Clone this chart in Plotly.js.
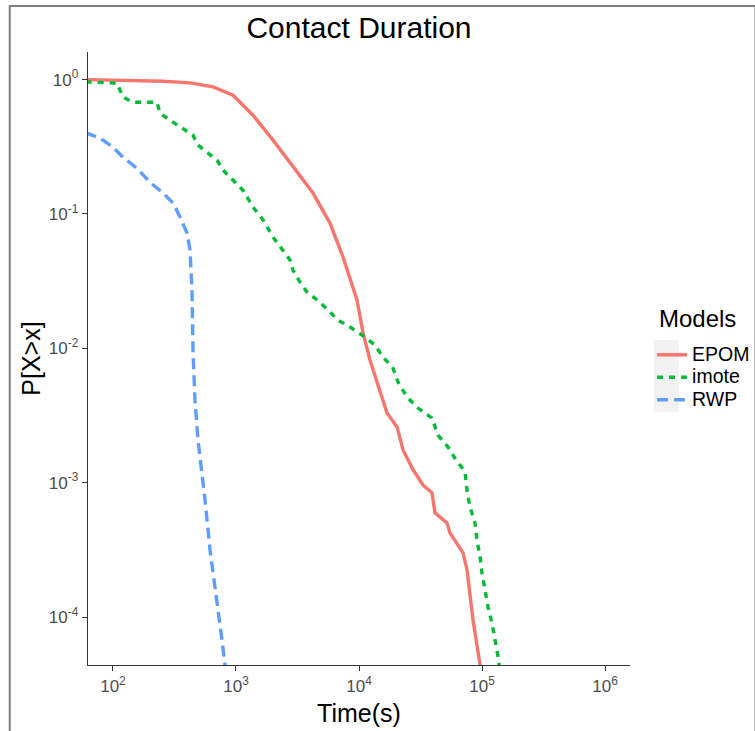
<!DOCTYPE html>
<html>
<head>
<meta charset="utf-8">
<script src="https://cdn.plot.ly/plotly-3.0.1.min.js"></script>
<style>html,body{margin:0;padding:0;background:#fff;}#chart{width:755px;height:731px;}</style>
</head>
<body>
<div id="chart"></div>
<script>
// Series: time (s) and complementary CDF P[X>x]
const seriesNames = ["EPOM", "imote", "RWP"];

const epomX = [60, 255, 423, 650, 946, 1375, 2000, 2906, 4227, 5808, 7413, 9636, 10790, 12280, 14830, 16900, 20380, 22800, 27500, 33130, 39200, 41460, 51900, 54900, 70100, 75500, 84500, 96400, 116000];
const epomY = [1.0, 0.97, 0.944, 0.881, 0.764, 0.543, 0.354, 0.223, 0.143, 0.0855, 0.0478, 0.0229, 0.0130, 0.00818, 0.00465, 0.0033, 0.0026, 0.00175, 0.00125, 0.00096, 0.00084, 0.000596, 0.000502, 0.000423, 0.0003, 0.000225, 0.000095, 0.000044, 0.000024];

const imoteX = [60, 108, 120.6, 145, 228, 241, 291, 351, 447, 491, 581, 701, 784, 946, 1140, 1375, 1660, 2000, 2412, 2749, 2906, 3311, 3775, 4560, 5600, 6750, 8450, 11190, 13490, 15670, 18890, 20750, 24550, 30170, 39200, 43840, 52900, 60300, 72800, 75500, 79800, 87700, 91000, 96400, 100000, 105700, 111900, 120600, 127600, 135000, 142700];
const imoteY = [0.96, 0.939, 0.739, 0.678, 0.678, 0.562, 0.498, 0.442, 0.385, 0.325, 0.288, 0.251, 0.212, 0.178, 0.150, 0.1124, 0.090, 0.0673, 0.0539, 0.0454, 0.0382, 0.0311, 0.0262, 0.0229, 0.0193, 0.0162, 0.0144, 0.0121, 0.01057, 0.0086, 0.00713, 0.0056, 0.00434, 0.00359, 0.00303, 0.00226, 0.00184, 0.00152, 0.0012, 0.00088, 0.00066, 0.0005, 0.000374, 0.000279, 0.000212, 0.000159, 0.000119, 0.00009, 0.0000675, 0.0000505, 0.000034];

const rwpX = [60, 78.4, 100, 120.6, 156.6, 200, 255, 308, 351, 400, 423, 439, 447, 464, 491, 560, 615, 701, 769, 814, 845];
const rwpY = [0.402, 0.366, 0.314, 0.264, 0.219, 0.172, 0.143, 0.1204, 0.0948, 0.0721, 0.0539, 0.0271, 0.0097, 0.00413, 0.00208, 0.000745, 0.000316, 0.000135, 0.000068, 0.000044, 0.000031];

// Tick labels
const xTickVals = [100, 1000, 10000, 100000, 1000000];
const xTickText = ["10<sup>2</sup>", "10<sup>3</sup>", "10<sup>4</sup>", "10<sup>5</sup>", "10<sup>6</sup>"];
const yTickVals = [1, 0.1, 0.01, 0.001, 0.0001];
const yTickText = ["10<sup>0</sup>", "10<sup>-1</sup>", "10<sup>-2</sup>", "10<sup>-3</sup>", "10<sup>-4</sup>"];

const FONT = "Liberation Sans, Arial, sans-serif";
const colors = ["#F8766D", "#00BA38", "#619CFF"];
const dashes = ["solid", "6px,6px", "11px,6px"];
const xs = [epomX, imoteX, rwpX];
const ys = [epomY, imoteY, rwpY];

const traces = seriesNames.map((n, i) => ({
  type: "scatter", mode: "lines",
  name: '<span style="font-size:19.5px">' + n + '</span>',
  x: xs[i], y: ys[i],
  line: {color: colors[i], width: 3.4, dash: dashes[i]},
  hoverinfo: "x+y"
}));

const axisCommon = {
  showgrid: false, zeroline: false, showline: true, linecolor: "#333333", linewidth: 1.3,
  ticks: "outside", ticklen: 5, tickwidth: 1, tickcolor: "#333333",
  tickfont: {family: FONT, size: 17, color: "#4D4D4D"}, mirror: false
};

const layout = {
  width: 755, height: 731,
  margin: {l: 88, r: 125, t: 52, b: 66, autoexpand: false},
  paper_bgcolor: "#ffffff", plot_bgcolor: "#ffffff",
  font: {family: FONT},
  title: {text: "Contact Duration", font: {family: FONT, size: 30, color: "#000"}, x: 0.5, xref: "paper", y: 0.962, yref: "container", yanchor: "middle"},
  xaxis: Object.assign({}, axisCommon, {
    type: "log", range: [1.797, 6.203], tickvals: xTickVals, ticktext: xTickText,
    title: {text: "Time(s)", font: {family: FONT, size: 25, color: "#000"}, standoff: 9}
  }),
  yaxis: Object.assign({}, axisCommon, {
    type: "log", range: [-4.357, 0.205], tickvals: yTickVals, ticktext: yTickText,
    title: {text: "P[X>x]", font: {family: FONT, size: 25, color: "#000"}, standoff: 1}
  }),
  showlegend: true,
  legend: {
    x: 1.0407, xanchor: "left", y: 0.5326, yanchor: "top",
    font: {family: FONT, size: 15, color: "#000"},
    bgcolor: "rgba(0,0,0,0)", itemwidth: 30, tracegroupgap: 0
  },
  annotations: [
    {text: "Models", xref: "paper", yref: "paper", x: 1.05, y: 0.566, xanchor: "left", yanchor: "middle", showarrow: false, font: {family: FONT, size: 24, color: "#000"}}
  ],
  shapes: [
    {type: "rect", xref: "paper", yref: "paper", x0: 1.044, x1: 1.09, y0: 0.413, y1: 0.530, fillcolor: "#F2F2F2", line: {width: 0}, layer: "above"},
    {type: "rect", xref: "paper", yref: "paper", x0: -0.1444, x1: 1.2315, y0: -0.14, y1: 1.075, fillcolor: "rgba(0,0,0,0)", line: {color: "#7F7F7F", width: 2}}
  ]
};

Plotly.newPlot("chart", traces, layout, {displayModeBar: false, staticPlot: true});
</script>
</body>
</html>
